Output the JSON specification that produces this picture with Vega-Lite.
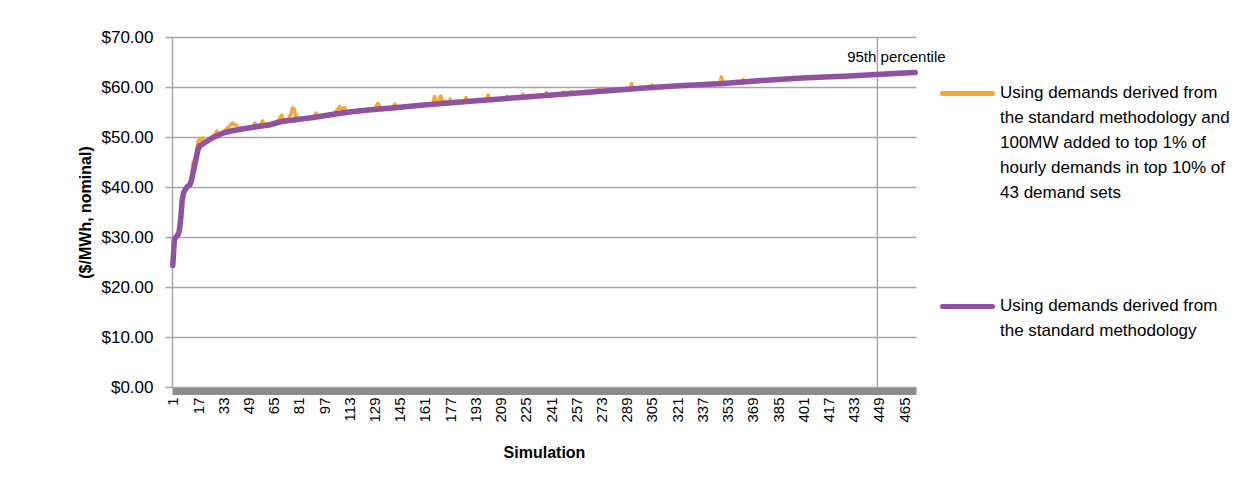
{
  "$schema": "https://vega.github.io/schema/vega-lite/v6.json",
  "width": 744,
  "height": 350,
  "autosize": "none",
  "padding": {"left": 172, "top": 37, "right": 338, "bottom": 107},
  "background": "white",
  "config": {
    "font": "Liberation Sans",
    "view": {"stroke": null},
    "axis": {"labelFont": "Liberation Sans", "titleFont": "Liberation Sans", "labelColor": "black", "titleColor": "black"}
  },
  "datasets": {
    "lines": [
      {"s":1,"v":24.3,"k":"std"},{"s":2,"v":29.5,"k":"std"},{"s":3,"v":30,"k":"std"},{"s":4,"v":30.3,"k":"std"},{"s":5,"v":31,"k":"std"},{"s":6,"v":33.5,"k":"std"},{"s":7,"v":37.5,"k":"std"},{"s":8,"v":39,"k":"std"},{"s":9,"v":39.5,"k":"std"},{"s":10,"v":40,"k":"std"},{"s":12,"v":40.5,"k":"std"},{"s":13,"v":41.5,"k":"std"},{"s":14,"v":43,"k":"std"},{"s":15,"v":44.5,"k":"std"},{"s":16,"v":46,"k":"std"},{"s":17,"v":47.5,"k":"std"},{"s":18,"v":48.2,"k":"std"},{"s":20,"v":48.6,"k":"std"},{"s":23,"v":49.2,"k":"std"},{"s":26,"v":49.8,"k":"std"},{"s":30,"v":50.4,"k":"std"},{"s":34,"v":50.9,"k":"std"},{"s":38,"v":51.2,"k":"std"},{"s":45,"v":51.6,"k":"std"},{"s":55,"v":52.1,"k":"std"},{"s":62,"v":52.4,"k":"std"},{"s":70,"v":53.1,"k":"std"},{"s":80,"v":53.5,"k":"std"},{"s":90,"v":53.9,"k":"std"},{"s":100,"v":54.4,"k":"std"},{"s":113,"v":55.0,"k":"std"},{"s":125,"v":55.4,"k":"std"},{"s":140,"v":55.8,"k":"std"},{"s":160,"v":56.4,"k":"std"},{"s":180,"v":56.9,"k":"std"},{"s":200,"v":57.4,"k":"std"},{"s":225,"v":58.0,"k":"std"},{"s":250,"v":58.6,"k":"std"},{"s":275,"v":59.2,"k":"std"},{"s":300,"v":59.8,"k":"std"},{"s":325,"v":60.3,"k":"std"},{"s":350,"v":60.7,"k":"std"},{"s":375,"v":61.3,"k":"std"},{"s":400,"v":61.8,"k":"std"},{"s":430,"v":62.2,"k":"std"},{"s":465,"v":62.8,"k":"std"},{"s":472,"v":62.9,"k":"std"},
      {"s":1,"v":24.3,"k":"plus"},{"s":2,"v":29.5,"k":"plus"},{"s":3,"v":30,"k":"plus"},{"s":4,"v":30.3,"k":"plus"},{"s":5,"v":31,"k":"plus"},{"s":6,"v":33.5,"k":"plus"},{"s":7,"v":37.5,"k":"plus"},{"s":8,"v":39,"k":"plus"},{"s":9,"v":39.5,"k":"plus"},{"s":10,"v":40,"k":"plus"},{"s":12,"v":40.8,"k":"plus"},{"s":13,"v":42.5,"k":"plus"},{"s":14,"v":45,"k":"plus"},{"s":15,"v":45.5,"k":"plus"},{"s":16,"v":47,"k":"plus"},{"s":17,"v":49,"k":"plus"},{"s":18,"v":49.6,"k":"plus"},{"s":19,"v":49.3,"k":"plus"},{"s":20,"v":49.8,"k":"plus"},{"s":21,"v":49.0,"k":"plus"},{"s":23,"v":49.2,"k":"plus"},{"s":26,"v":49.9,"k":"plus"},{"s":28,"v":50.6,"k":"plus"},{"s":29,"v":51.2,"k":"plus"},{"s":30,"v":50.6,"k":"plus"},{"s":33,"v":51.0,"k":"plus"},{"s":35,"v":51.6,"k":"plus"},{"s":37,"v":52.2,"k":"plus"},{"s":39,"v":52.8,"k":"plus"},{"s":40,"v":52.5,"k":"plus"},{"s":41,"v":52.4,"k":"plus"},{"s":43,"v":51.6,"k":"plus"},{"s":45,"v":51.7,"k":"plus"},{"s":50,"v":51.9,"k":"plus"},{"s":52,"v":52.2,"k":"plus"},{"s":53,"v":52.8,"k":"plus"},{"s":54,"v":52.2,"k":"plus"},{"s":57,"v":52.5,"k":"plus"},{"s":58,"v":53.2,"k":"plus"},{"s":59,"v":52.6,"k":"plus"},{"s":62,"v":52.5,"k":"plus"},{"s":66,"v":52.9,"k":"plus"},{"s":68,"v":53.3,"k":"plus"},{"s":70,"v":54.4,"k":"plus"},{"s":71,"v":53.5,"k":"plus"},{"s":74,"v":53.4,"k":"plus"},{"s":76,"v":54.6,"k":"plus"},{"s":77,"v":55.8,"k":"plus"},{"s":78,"v":55.6,"k":"plus"},{"s":79,"v":54.2,"k":"plus"},{"s":80,"v":53.8,"k":"plus"},{"s":82,"v":53.6,"k":"plus"},{"s":90,"v":53.9,"k":"plus"},{"s":92,"v":54.8,"k":"plus"},{"s":93,"v":54.0,"k":"plus"},{"s":100,"v":54.4,"k":"plus"},{"s":104,"v":54.9,"k":"plus"},{"s":106,"v":55.6,"k":"plus"},{"s":107,"v":56.1,"k":"plus"},{"s":108,"v":55.5,"k":"plus"},{"s":110,"v":55.9,"k":"plus"},{"s":111,"v":55.1,"k":"plus"},{"s":113,"v":55.0,"k":"plus"},{"s":125,"v":55.4,"k":"plus"},{"s":129,"v":55.6,"k":"plus"},{"s":131,"v":56.7,"k":"plus"},{"s":133,"v":55.9,"k":"plus"},{"s":140,"v":55.8,"k":"plus"},{"s":142,"v":56.6,"k":"plus"},{"s":143,"v":55.9,"k":"plus"},{"s":160,"v":56.4,"k":"plus"},{"s":166,"v":56.6,"k":"plus"},{"s":167,"v":58.1,"k":"plus"},{"s":168,"v":57.2,"k":"plus"},{"s":170,"v":57.0,"k":"plus"},{"s":171,"v":58.2,"k":"plus"},{"s":172,"v":57.1,"k":"plus"},{"s":176,"v":57.0,"k":"plus"},{"s":177,"v":57.6,"k":"plus"},{"s":178,"v":57.1,"k":"plus"},{"s":186,"v":57.2,"k":"plus"},{"s":187,"v":57.9,"k":"plus"},{"s":188,"v":57.2,"k":"plus"},{"s":200,"v":57.4,"k":"plus"},{"s":201,"v":58.4,"k":"plus"},{"s":202,"v":57.5,"k":"plus"},{"s":212,"v":57.7,"k":"plus"},{"s":213,"v":58.2,"k":"plus"},{"s":214,"v":57.8,"k":"plus"},{"s":222,"v":58.0,"k":"plus"},{"s":223,"v":58.6,"k":"plus"},{"s":224,"v":58.0,"k":"plus"},{"s":237,"v":58.3,"k":"plus"},{"s":238,"v":58.9,"k":"plus"},{"s":239,"v":58.4,"k":"plus"},{"s":248,"v":58.5,"k":"plus"},{"s":249,"v":59.0,"k":"plus"},{"s":250,"v":58.7,"k":"plus"},{"s":253,"v":58.7,"k":"plus"},{"s":254,"v":59.1,"k":"plus"},{"s":255,"v":58.8,"k":"plus"},{"s":270,"v":59.1,"k":"plus"},{"s":271,"v":59.6,"k":"plus"},{"s":272,"v":59.2,"k":"plus"},{"s":291,"v":59.6,"k":"plus"},{"s":292,"v":60.7,"k":"plus"},{"s":293,"v":59.8,"k":"plus"},{"s":300,"v":59.8,"k":"plus"},{"s":304,"v":59.9,"k":"plus"},{"s":305,"v":60.4,"k":"plus"},{"s":306,"v":60.0,"k":"plus"},{"s":325,"v":60.3,"k":"plus"},{"s":348,"v":60.7,"k":"plus"},{"s":349,"v":62.0,"k":"plus"},{"s":350,"v":60.8,"k":"plus"},{"s":362,"v":61.0,"k":"plus"},{"s":363,"v":61.5,"k":"plus"},{"s":364,"v":61.1,"k":"plus"},{"s":375,"v":61.3,"k":"plus"},{"s":400,"v":61.8,"k":"plus"},{"s":430,"v":62.2,"k":"plus"},{"s":465,"v":62.8,"k":"plus"},{"s":472,"v":62.9,"k":"plus"}
    ],
    "marker": [{"s": 448, "t": "95th percentile", "ty": 66}]
  },
  "encoding": {
    "x": {"field": "s", "type": "quantitative",
      "scale": {"domain": [0.5, 472.5], "nice": false, "zero": false},
      "axis": {
        "title": "Simulation",
        "values": [1,17,33,49,65,81,97,113,129,145,161,177,193,209,225,241,257,273,289,305,321,337,353,369,385,401,417,433,449,465],
        "labelAngle": 270,
        "labelFontSize": 15,
        "labelPadding": 6,
        "labelBound": false,
        "labelOverlap": false,
        "labelFlush": false,
        "ticks": false,
        "grid": false,
        "domainColor": "#8C8C8C",
        "domainWidth": 7,
        "offset": 4,
        "titleFontSize": 16,
        "titleFontWeight": "bold",
        "titlePadding": 22
      }
    }
  },
  "layer": [
    {
      "data": {"name": "marker"},
      "mark": {"type": "rule", "color": "#A6A6A6", "strokeWidth": 1.5},
      "encoding": {}
    },
    {
      "data": {"name": "marker"},
      "mark": {"type": "text", "fontSize": 15, "font": "Liberation Sans", "color": "black", "dx": 19, "align": "center", "baseline": "middle"},
      "encoding": {
        "y": {"field": "ty", "type": "quantitative"},
        "text": {"field": "t"}
      }
    },
    {
      "data": {"name": "lines"},
      "transform": [{"filter": "datum.k === 'plus'"}],
      "mark": {"type": "line", "strokeWidth": 3.5, "strokeJoin": "round", "strokeCap": "round"},
      "encoding": {
        "y": {"field": "v", "type": "quantitative"},
        "color": {"field": "k", "type": "nominal"}
      }
    },
    {
      "data": {"name": "lines"},
      "transform": [{"filter": "datum.k === 'std'"}],
      "mark": {"type": "line", "strokeWidth": 5.5, "strokeJoin": "round", "strokeCap": "round"},
      "encoding": {
        "y": {"field": "v", "type": "quantitative",
          "scale": {"domain": [0, 70], "nice": false},
          "axis": {
            "title": "($/MWh, nominal)",
            "values": [0,10,20,30,40,50,60,70],
            "format": "$.2f",
            "labelFontSize": 17,
            "labelPadding": 12,
            "tickSize": 7,
            "tickColor": "#A6A6A6",
            "tickWidth": 1.5,
            "domainColor": "#A6A6A6",
            "domainWidth": 1.5,
            "gridColor": "#A6A6A6",
            "gridWidth": 1.5,
            "titleFontSize": 16,
            "titleFontWeight": "bold",
            "titlePadding": 8
          }
        },
        "color": {
          "field": "k", "type": "nominal",
          "scale": {"domain": ["plus", "std"], "range": ["#FBA535", "#9151A1"]},
          "legend": {
            "title": null,
            "orient": "none",
            "legendX": 768,
            "legendY": 29,
            "symbolType": "stroke",
            "symbolSize": 2500,
            "symbolStrokeWidth": 5,
            "labelFontSize": 17,
            "labelFont": "Liberation Sans",
            "labelColor": "black",
            "labelBaseline": "top",
            "labelOffset": 5,
            "labelLimit": 400,
            "rowPadding": 78,
            "labelExpr": "datum.label === 'plus' ? ['Using demands derived from', 'the standard methodology and', '100MW added to top 1% of', 'hourly demands in top 10% of', '43 demand sets'] : ['Using demands derived from', 'the standard methodology']",
            "encode": {
              "labels": {"update": {"dy": {"value": -9}, "lineHeight": {"value": 25}}},
              "symbols": {"update": {"strokeCap": {"value": "round"}}}
            }
          }
        }
      }
    }
  ]
}
